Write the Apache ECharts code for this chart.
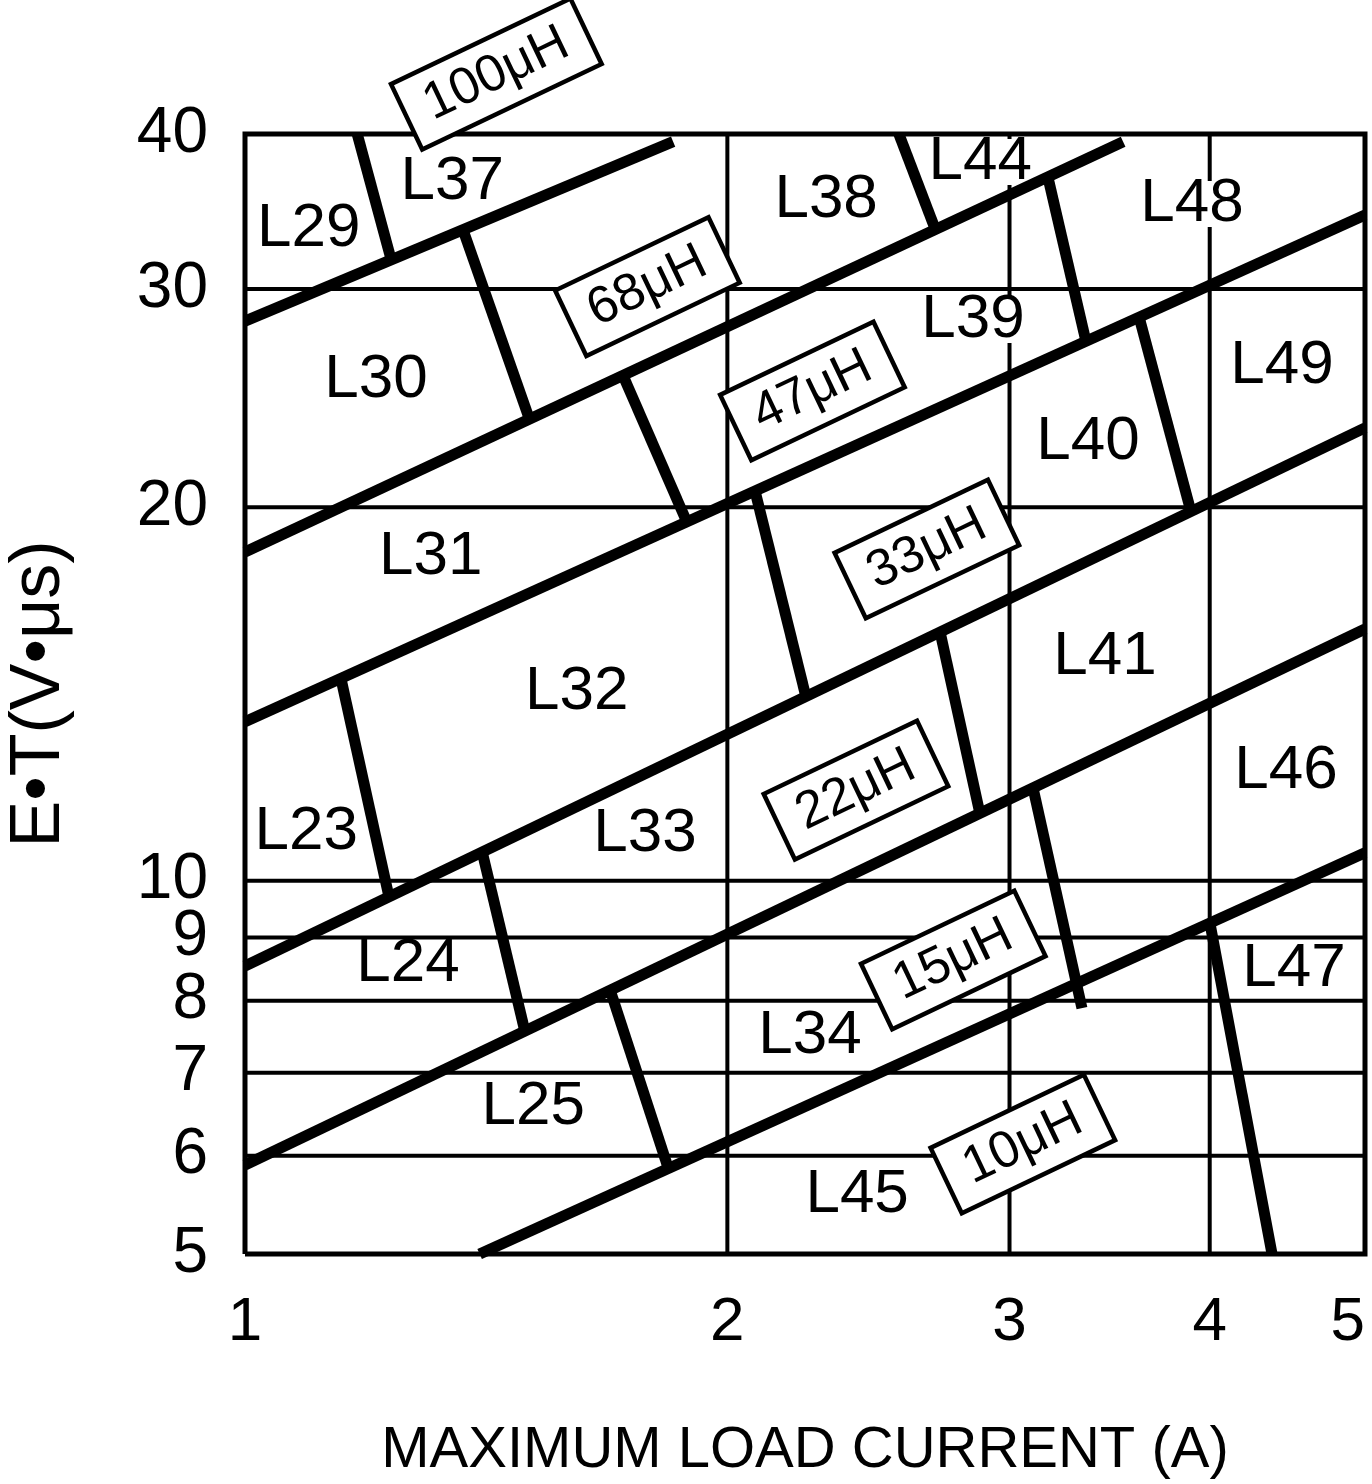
<!DOCTYPE html>
<html>
<head>
<meta charset="utf-8">
<script src="https://cdn.jsdelivr.net/npm/echarts@6/dist/echarts.min.js"></script>
<style>html,body{margin:0;padding:0;background:#fff}#c{width:1372px;height:1484px}</style>
</head>
<body>
<div id="c"></div>
<script>
// ---- axis ticks / grid ----
const xTicks = [1, 2, 3, 4, 5];
const yTicks = [5, 6, 7, 8, 9, 10, 20, 30, 40];
const xGrid = [2, 3, 4];
const yGrid = [6, 7, 8, 9, 10, 20, 30];

// ---- inductance boundary lines (current A, E*T V*us) ----
const inductorLines = [
  [[1, 28.26], [1.850, 39.44]],
  [[1, 18.41], [3.532, 39.43]],
  [[1, 13.43], [5, 34.41]],
  [[1, 8.535], [5, 23.18]],
  [[1, 5.899], [5, 15.955]],
  [[1.401, 5], [5, 10.53]]
];

// ---- short dividers between part-number regions ----
const regionDividers = [
  [[1.175, 40], [1.233, 31.77]],
  [[1.368, 33.47], [1.504, 23.61]],
  [[1.722, 25.53], [1.887, 19.46]],
  [[2.559, 40], [2.696, 33.53]],
  [[3.170, 36.93], [3.348, 27.23]],
  [[3.614, 28.47], [3.894, 19.83]],
  [[2.081, 20.62], [2.239, 14.07]],
  [[1.148, 14.54], [1.230, 9.70]],
  [[2.715, 15.87], [2.872, 11.40]],
  [[1.406, 10.55], [1.495, 7.563]],
  [[3.103, 11.88], [3.329, 7.893]],
  [[1.690, 8.161], [1.837, 5.865]],
  [[4.002, 9.227], [4.375, 5]]
];

// ---- region labels ----
const regionNames = ['L29','L37','L38','L44','L48','L30','L39','L49','L40','L31','L32','L23','L24','L33','L41','L46','L47','L34','L25','L45'];
const regionX = [1.096, 1.347, 2.305, 2.876, 3.899, 1.207, 2.847, 4.438, 3.358, 1.306, 1.611, 1.092, 1.264, 1.777, 3.441, 4.464, 4.515, 2.252, 1.513, 2.410];
const regionY = [33.53, 36.59, 35.38, 37.97, 35.12, 25.34, 28.32, 26.00, 22.58, 18.24, 14.20, 10.95, 8.567, 10.91, 15.15, 12.26, 8.488, 7.493, 6.570, 5.579];

// ---- inductance value tags ----
const indNames = ['100μH', '68μH', '47μH', '33μH', '22μH', '15μH', '10μH'];
const indX = [1.435, 1.783, 2.260, 2.664, 2.406, 2.767, 3.058];
const indY = [44.71, 30.13, 24.82, 18.51, 11.83, 8.631, 6.133];

const FONT = '"Liberation Sans", Arial, sans-serif';
const xMin = xTicks[0], xMax = xTicks[xTicks.length - 1];
const yMin = yTicks[0], yMax = yTicks[yTicks.length - 1];
const base = { type: 'line', symbol: 'none', silent: true, animation: false };
const series = [];

yGrid.forEach(v => series.push(Object.assign({}, base, {
  z: 1, data: [[xMin, v], [xMax, v]], lineStyle: { color: '#000', width: 4 }
})));
xGrid.forEach(v => series.push(Object.assign({}, base, {
  z: 1, data: [[v, yMin], [v, yMax]], lineStyle: { color: '#000', width: 4 }
})));

series.push({
  type: 'scatter', z: 3, silent: true, animation: false, clip: false,
  symbolSize: 1, itemStyle: { color: 'rgba(0,0,0,0)', opacity: 1 },
  data: regionNames.map((n, i) => ({ name: n, value: [regionX[i], regionY[i]] })),
  label: {
    show: true, position: 'inside', formatter: p => p.name,
    fontSize: 62, fontFamily: FONT, color: '#000', opacity: 1,
    textBorderWidth: 0,
    backgroundColor: '#fff', padding: [0, 4], lineHeight: 46
  }
});

inductorLines.forEach(seg => series.push(Object.assign({}, base, {
  z: 4, data: seg, lineStyle: { color: '#000', width: 11 }
})));
regionDividers.forEach(seg => series.push(Object.assign({}, base, {
  z: 4, data: seg, lineStyle: { color: '#000', width: 11 }
})));

// plot frame
series.push(Object.assign({}, base, {
  z: 4, clip: false,
  data: [[xMin, yMin], [xMax, yMin], [xMax, yMax], [xMin, yMax], [xMin, yMin]],
  lineStyle: { color: '#000', width: 5, join: 'miter' }
}));

series.push({
  type: 'scatter', z: 6, silent: true, animation: false, clip: false,
  symbolSize: 1, itemStyle: { color: 'rgba(0,0,0,0)', opacity: 1 },
  data: indNames.map((n, i) => ({ name: n, value: [indX[i], indY[i]] })),
  label: {
    show: true, position: 'inside', formatter: p => p.name, rotate: 25.5,
    fontSize: 52, lineHeight: 52, fontFamily: FONT, color: '#000', opacity: 1,
    textBorderWidth: 0,
    backgroundColor: '#fff', borderColor: '#000', borderWidth: 4.5,
    padding: [8, 20]
  }
});

const chart = echarts.init(document.getElementById('c'), null, { renderer: 'canvas' });
chart.setOption({
  animation: false,
  backgroundColor: '#fff',
  grid: { left: 245, top: 134, width: 1120, height: 1120, show: false, containLabel: false, outerBoundsMode: 'none' },
  xAxis: {
    type: 'log', logBase: 10, min: xMin, max: xMax,
    axisLine: { show: false }, axisTick: { show: false }, splitLine: { show: false },
    axisLabel: {
      customValues: xTicks, formatter: v => String(v),
      fontSize: 62, fontFamily: FONT, color: '#000', margin: 38,
      alignMaxLabel: 'right'
    },
    name: 'MAXIMUM LOAD CURRENT (A)', nameLocation: 'middle', nameGap: 168,
    nameTextStyle: { fontSize: 58, fontFamily: FONT, color: '#000' }
  },
  yAxis: {
    type: 'log', logBase: 10, min: yMin, max: yMax,
    axisLine: { show: false }, axisTick: { show: false }, splitLine: { show: false },
    axisLabel: {
      customValues: yTicks, formatter: v => String(v),
      fontSize: 64, fontFamily: FONT, color: '#000', margin: 37
    },
    name: 'E•T(V•μs)', nameLocation: 'middle', nameRotate: 90, nameGap: 170,
    nameTextStyle: { fontSize: 70, fontFamily: FONT, color: '#000' }
  },
  series: series
});
</script>
</body>
</html>
